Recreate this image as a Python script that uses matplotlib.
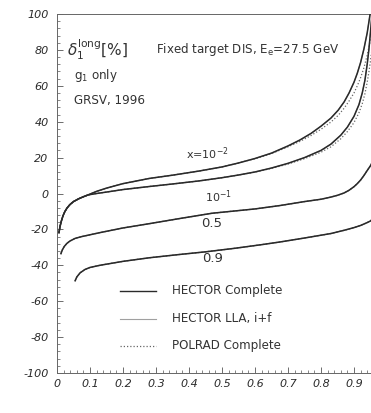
import numpy as np
import matplotlib.pyplot as plt
from matplotlib.ticker import MultipleLocator

plt.rcParams["axes.unicode_minus"] = False

# curve x = 10^-2 (HECTOR complete)
y_a = [0.006, 0.009, 0.013, 0.018, 0.024, 0.03, 0.039, 0.05, 0.065, 0.08, 0.094,
       0.12, 0.15, 0.2, 0.28, 0.35, 0.43, 0.5, 0.55, 0.6, 0.65, 0.7, 0.736, 0.77,
       0.8, 0.83, 0.852, 0.87, 0.885, 0.9, 0.91, 0.92, 0.93, 0.94, 0.948, 0.955]
d_a = [-21.8, -18.5, -15.5, -12.5, -10.0, -8.2, -6.2, -4.5, -3.0, -1.8, -0.8,
       1.2, 3.0, 5.5, 8.4, 10.2, 12.5, 14.8, 17.0, 19.5, 22.5, 26.5, 29.8, 33.5,
       37.5, 42.0, 46.4, 51.0, 56.0, 62.0, 67.0, 73.0, 80.5, 89.5, 99.0, 108.0]
d_a_polrad = [-21.8, -18.5, -15.5, -12.5, -10.0, -8.2, -6.2, -4.5, -3.0, -1.8, -0.8,
              1.2, 3.0, 5.5, 8.4, 10.2, 12.5, 14.8, 17.0, 19.4, 22.2, 26.0, 29.0, 32.3,
              35.8, 39.8, 43.5, 47.5, 51.5, 56.0, 60.0, 64.5, 70.0, 77.0, 84.0, 91.0]

# curve x = 10^-1
y_b = [0.006, 0.009, 0.013, 0.018, 0.024, 0.03, 0.039, 0.05, 0.065, 0.08, 0.094,
       0.12, 0.15, 0.2, 0.28, 0.35, 0.43, 0.5, 0.55, 0.6, 0.65, 0.7, 0.75, 0.8,
       0.83, 0.86, 0.88, 0.9, 0.915, 0.925, 0.933, 0.94, 0.945, 0.95, 0.955, 0.96]
d_b = [-21.8, -18.5, -15.5, -12.5, -10.0, -8.2, -6.2, -4.5, -3.0, -1.8, -0.8,
       0.0, 0.8, 2.2, 3.9, 5.3, 7.0, 8.8, 10.3, 12.0, 14.2, 16.8, 20.0, 24.0,
       27.5, 32.5, 37.0, 43.0, 49.5, 56.0, 63.0, 72.0, 80.0, 90.0, 101.0, 112.0]
d_b_polrad = [-21.8, -18.5, -15.5, -12.5, -10.0, -8.2, -6.2, -4.5, -3.0, -1.8, -0.8,
              0.0, 0.8, 2.2, 3.9, 5.3, 7.0, 8.8, 10.3, 11.9, 14.0, 16.4, 19.4, 23.0,
              26.0, 30.5, 34.5, 39.5, 45.0, 50.0, 55.5, 62.0, 67.5, 74.0, 81.0, 89.0]

# curve x = 0.5
y_c = [0.012, 0.016, 0.022, 0.03, 0.039, 0.055, 0.075, 0.1, 0.13, 0.2, 0.28,
       0.37, 0.47, 0.6, 0.676, 0.75, 0.8, 0.83, 0.85, 0.87, 0.885, 0.9, 0.91,
       0.92, 0.93, 0.94, 0.95, 0.96]
d_c = [-33.5, -31.5, -29.5, -27.8, -26.5, -25.0, -24.0, -23.0, -21.8, -19.2, -16.8,
       -14.0, -11.0, -8.6, -6.7, -4.5, -3.2, -2.0, -1.0, 0.3, 1.8, 3.8, 5.5,
       7.5, 10.0, 12.8, 15.5, 19.0]

# curve x = 0.9
y_d = [0.055, 0.06, 0.07, 0.085, 0.1, 0.13, 0.2, 0.28, 0.37, 0.45, 0.54, 0.62,
       0.676, 0.75, 0.83, 0.87, 0.9, 0.92, 0.94, 0.95, 0.96]
d_d = [-48.6, -46.5, -44.2, -42.3, -41.2, -40.0, -37.8, -35.8, -34.0, -32.5, -30.5, -28.5,
       -27.0, -24.8, -22.3, -20.5, -19.0, -17.8, -16.2, -15.3, -13.5]

curve_labels = [r"x=10$^{-2}$", r"10$^{-1}$", "0.5", "0.9"]
label_pos = [(0.455, 22.0), (0.49, -2.0), (0.47, -16.5), (0.47, -36.0)]
label_size = [8, 8, 9.5, 9.5]
legend_names = ["HECTOR Complete", "HECTOR LLA, i+f", "POLRAD Complete"]

W, H = 371, 413
fig = plt.figure(figsize=(W / 100, H / 100), dpi=100)
ax = fig.add_axes([57 / W, (H - 373) / H, 330 / W, 359 / H])

dark = "#2a2a2a"
light = "#a0a0a0"
dotted = (0, (1, 1.6))

curves = [(y_a, d_a, d_a_polrad), (y_b, d_b, d_b_polrad), (y_c, d_c, d_c), (y_d, d_d, d_d)]
for yy, dd, pp in curves:
    ax.plot(yy, dd, color=light, lw=0.8, zorder=2)
    ax.plot(yy, pp, color="#666666", lw=0.9, ls=dotted, zorder=2)
    ax.plot(yy, dd, color=dark, lw=1.1, zorder=3)

for txt, (px, py), fs in zip(curve_labels, label_pos, label_size):
    ax.text(px, py, txt, fontsize=fs, color="#333333", ha="center", va="center")

# legend drawn by hand inside the axes
leg_y = [-54.2, -69.8, -84.9]
styles = [dict(color=dark, lw=1.0), dict(color=light, lw=0.8),
          dict(color="#666666", lw=0.9, ls=dotted)]
for name, ly, st in zip(legend_names, leg_y, styles):
    ax.plot([0.19, 0.30], [ly, ly], **st)
    ax.text(0.35, ly, name, fontsize=8.6, color="#333333", va="center")

ax.text(0.03, 80, r"$\delta_{\mathregular{1}}^{\mathregular{long}}[\%]$", fontsize=11,
        color="#333333", va="center")
ax.text(0.30, 80, r"Fixed target DIS, E$_{\mathregular{e}}$=27.5 GeV", fontsize=8.6,
        color="#333333", va="center")
ax.text(0.05, 66, r"g$_{\mathregular{1}}$ only", fontsize=8.6, color="#333333", va="center")
ax.text(0.05, 52, "GRSV, 1996", fontsize=8.6, color="#333333", va="center")

ax.set_xlim(0, 1)
ax.set_ylim(-100, 100)
ax.xaxis.set_minor_locator(MultipleLocator(0.02))
ax.yaxis.set_major_locator(MultipleLocator(20))
ax.yaxis.set_minor_locator(MultipleLocator(4))
ax.set_xticks(np.arange(0, 1.0, 0.1))
ax.set_xticklabels(["0", "0.1", "0.2", "0.3", "0.4", "0.5", "0.6", "0.7", "0.8", "0.9"])
ax.tick_params(which="both", direction="in", top=False, right=False, colors="#555555",
               labelcolor="#2a2a2a", labelsize=8)
ax.tick_params(which="major", length=4, width=0.6)
ax.tick_params(which="minor", length=2, width=0.5)
ax.tick_params(axis="y", pad=6)
ax.tick_params(axis="x", pad=4)
for lab in ax.get_xticklabels() + ax.get_yticklabels():
    lab.set_style("italic")
for s in ax.spines.values():
    s.set_color("#666666")
    s.set_linewidth(0.7)

fig.savefig("out.png", dpi=100)
